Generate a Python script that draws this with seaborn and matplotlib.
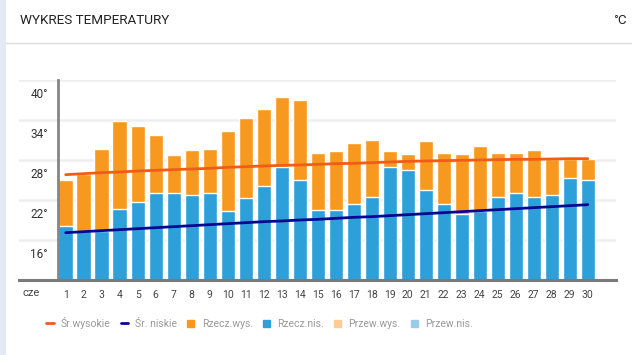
import numpy as np
import pandas as pd
import matplotlib
matplotlib.use("Agg")
import matplotlib.pyplot as plt
import matplotlib.transforms as mtransforms
from matplotlib import font_manager
from matplotlib.lines import Line2D
from matplotlib.patches import Patch
import seaborn as sns

# --- data (June, daily) ---
days = [str(d) for d in range(1, 31)]
actual_high = [25.0, 25.9, 29.65, 33.85, 33.1, 31.75, 28.75, 29.5, 29.65, 32.35,
               34.3, 35.65, 37.5, 37.0, 29.05, 29.35, 30.55, 31.0, 29.35, 28.9,
               30.85, 29.05, 28.9, 30.1, 29.05, 29.05, 29.5, 28.15, 28.15, 28.15]
actual_low = [18.15, 17.4, 17.4, 20.65, 21.75, 23.05, 23.05, 22.75, 23.05, 20.35,
              22.35, 24.1, 27.0, 25.05, 20.55, 20.55, 21.45, 22.45, 26.95, 26.55,
              23.55, 21.45, 19.95, 20.4, 22.45, 23.05, 22.45, 22.75, 25.35, 25.05]
avg_high = [25.8, 25.95, 26.1, 26.2, 26.35, 26.45, 26.55, 26.65, 26.75, 26.9,
            27.0, 27.1, 27.2, 27.25, 27.35, 27.45, 27.5, 27.6, 27.7, 27.8,
            27.85, 27.9, 27.95, 28.0, 28.05, 28.1, 28.1, 28.15, 28.2, 28.2]
avg_low = [17.1, 17.25, 17.4, 17.55, 17.7, 17.85, 18.0, 18.15, 18.3, 18.45,
           18.6, 18.75, 18.85, 19.0, 19.1, 19.25, 19.4, 19.5, 19.65, 19.8,
           19.95, 20.1, 20.25, 20.4, 20.55, 20.7, 20.85, 21.0, 21.15, 21.3]
y_ticks = [16, 22, 28, 34, 40]
month_label = "cze"
legend_labels = ["Śr.wysokie", "Śr. niskie", "Rzecz.wys.", "Rzecz.nis.", "Przew.wys.", "Przew.nis."]

df = pd.DataFrame({"day": days, "high": actual_high, "low": actual_low,
                   "avg_high": avg_high, "avg_low": avg_low})
df["pos"] = np.arange(len(df))

# colours
c_high = "#f7981f"
c_low = "#2d9fd9"
c_line_high = "#f25c19"
c_line_low = "#07078f"
c_fc_high = "#ffcc99"
c_fc_low = "#99ccec"

sns.set_theme(style="white")
available = {f.name for f in font_manager.fontManager.ttflist}
main_font = "Liberation Sans Narrow" if "Liberation Sans Narrow" in available else "Roboto"
plt.rcParams['font.family'] = [main_font, 'DejaVu Sans']

fig = plt.figure(figsize=(6.32, 3.55), dpi=100)
fig.patch.set_facecolor("white")

# left strip and header
fig.add_artist(plt.Rectangle((0, 0), 6 / 632, 1, transform=fig.transFigure,
                             color="#e4eaf3", lw=0))
fig.add_artist(Line2D([6 / 632, 1], [1 - 42.5 / 355] * 2, transform=fig.transFigure,
                      color="#dddddd", lw=1))
fig.text(20 / 632, 1 - 20 / 355, "WYKRES TEMPERATURY", fontsize=9.7, color="#222222",
         va="center", ha="left")
fig.text(627 / 632, 1 - 20 / 355, "°C", fontsize=9.5, color="#222222", va="center", ha="right")

ax = fig.add_axes([19 / 632, 1 - 280 / 355, 597 / 632, 200 / 355])

sns.barplot(data=df, x="day", y="high", color=c_high, saturation=1, width=0.8, ax=ax)
sns.barplot(data=df, x="day", y="low", color=c_low, saturation=1, width=0.8, ax=ax)
sns.lineplot(data=df, x="pos", y="avg_high", color=c_line_high, lw=2, ax=ax)
sns.lineplot(data=df, x="pos", y="avg_low", color=c_line_low, lw=2, ax=ax)

ax.set_xlim(-2.594, 30.57)
ax.set_ylim(10, 40)
ax.set_yticks(y_ticks)
ax.set_yticklabels([])
ax.tick_params(axis="y", length=0)
ax.yaxis.grid(True, color="#eeeeee", lw=1.8)
ax.set_axisbelow(True)
ax.set_xlabel("")
ax.set_ylabel("")

for s in ["top", "right"]:
    ax.spines[s].set_visible(False)
ax.spines["bottom"].set_color("#7a7a7a")
ax.spines["bottom"].set_linewidth(2.2)
ax.spines["left"].set_position(("data", -0.43))
ax.spines["left"].set_color("#858585")
ax.spines["left"].set_linewidth(2)

# y labels sit below their gridline
off = mtransforms.ScaledTranslation(0, -15 / 100, fig.dpi_scale_trans)
trans = mtransforms.blended_transform_factory(ax.transAxes, ax.transData) + off
for v in y_ticks:
    ax.text(29 / 597, v, f"{v}°", transform=trans, ha="right", va="center",
            fontsize=8.5, color="#333333")

ax.tick_params(axis="x", length=0, pad=7, labelsize=7.5, labelcolor="#444444")
ax.text(-1.93, -13 / 200, month_label,
        transform=mtransforms.blended_transform_factory(ax.transData, ax.transAxes),
        ha="center", va="center", fontsize=8, color="#444444")

handles = [Line2D([], [], color=c_line_high, lw=2),
           Line2D([], [], color=c_line_low, lw=2),
           Patch(color=c_high), Patch(color=c_low),
           Patch(color=c_fc_high), Patch(color=c_fc_low)]
leg = fig.legend(handles, legend_labels, loc="center left", ncol=6,
                 bbox_to_anchor=(37 / 632, 1 - 323 / 355), frameon=False,
                 fontsize=7.5, handlelength=0.7, handleheight=0.7,
                 handletextpad=0.7, columnspacing=0.95, labelcolor="#999999")

fig.savefig("out.png", dpi=100)
